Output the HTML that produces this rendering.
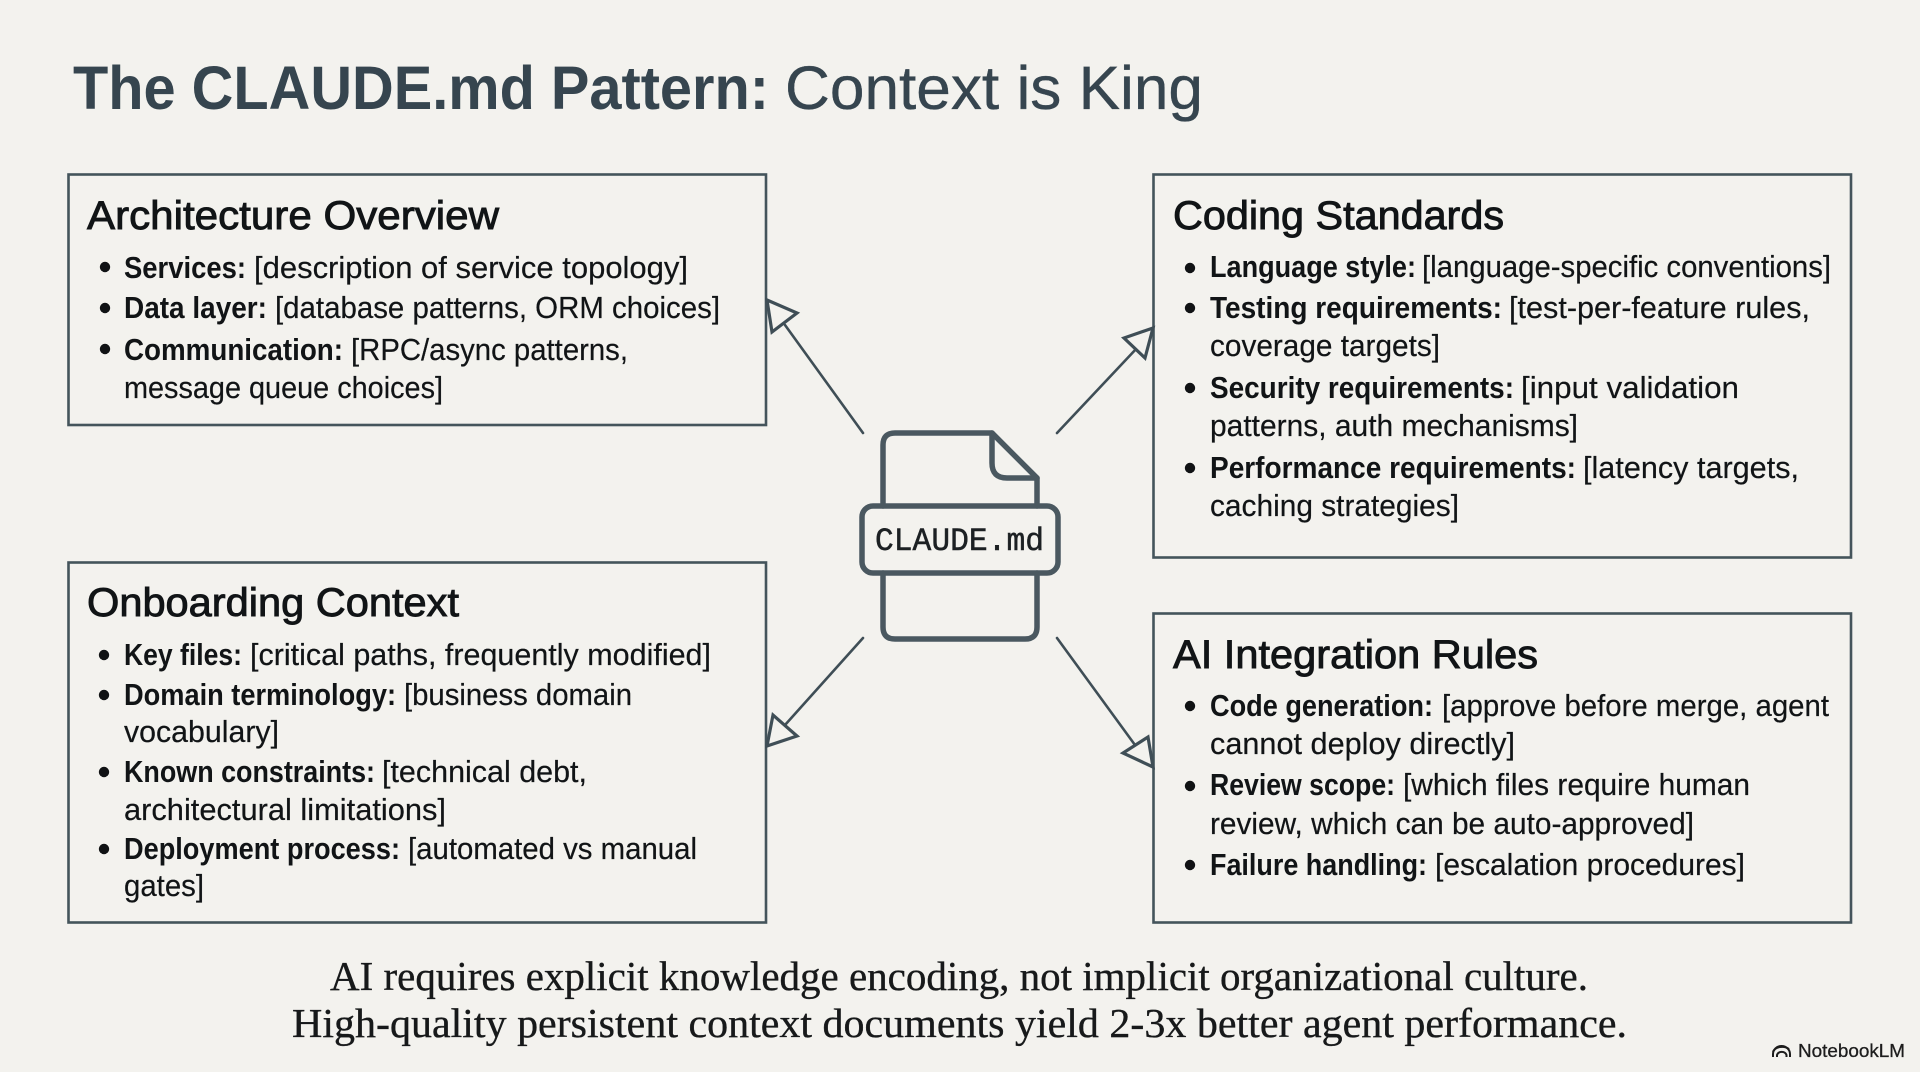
<!DOCTYPE html>
<html lang="en">
<head>
<meta charset="utf-8">
<title>The CLAUDE.md Pattern: Context is King</title>
<style>
html,body{margin:0;padding:0;width:1920px;height:1072px;overflow:hidden;background:#f3f2ee}
svg{display:block}
text{font-family:"Liberation Sans",sans-serif;fill:#111416;white-space:pre}
.t{font-size:61px;fill:#36454f}
.tr{stroke:#36454f;stroke-width:.35px}
.h{font-size:40px;stroke:#111416;stroke-width:.9px}
.b{font-size:31px;font-weight:bold}
.r{font-size:31px;stroke:#111416;stroke-width:.2px}
.s{font-family:"Liberation Serif",serif;font-size:41px;fill:#17191a;stroke:#17191a;stroke-width:.35px}
.m{font-family:"Liberation Mono",monospace;font-size:32px;fill:#1c2023;stroke:#1c2023;stroke-width:.5px}
.box{fill:none;stroke:#44545b;stroke-width:2.6}
.ln{fill:none;stroke:#3f4e56;stroke-width:2.6;stroke-linecap:round}
.ar{fill:#f3f2ee;stroke:#3f4e56;stroke-width:3.2;stroke-linejoin:miter}
.ic{fill:none;stroke:#4a5860;stroke-width:5.5;stroke-linejoin:round;stroke-linecap:round}
.dot{fill:#101214}
</style>
</head>
<body>
<svg width="1920" height="1072" viewBox="0 0 1920 1072" xmlns="http://www.w3.org/2000/svg">
<rect width="1920" height="1072" fill="#f3f2ee"/>

<text class="t" x="73" y="109" font-weight="bold" textLength="696" lengthAdjust="spacingAndGlyphs">The CLAUDE.md Pattern:</text>
<text class="t tr" x="785" y="109" textLength="418" lengthAdjust="spacingAndGlyphs">Context is King</text>

<rect class="box" x="68.500" y="174.500" width="697.500" height="250.500"/>
<rect class="box" x="1153.500" y="174.500" width="697.500" height="383"/>
<rect class="box" x="68.500" y="562.500" width="697.500" height="360"/>
<rect class="box" x="1153.500" y="613.500" width="697.500" height="309"/>

<!-- Architecture Overview -->
<text class="h" x="87" y="229" textLength="412" lengthAdjust="spacingAndGlyphs">Architecture Overview</text>
<circle class="dot" cx="105" cy="267" r="5.200"/>
<text class="b" x="124" y="278" textLength="122" lengthAdjust="spacingAndGlyphs">Services:</text>
<text class="r" x="254" y="278" textLength="434" lengthAdjust="spacingAndGlyphs">[description of service topology]</text>
<circle class="dot" cx="105" cy="308" r="5.200"/>
<text class="b" x="124" y="318" textLength="143" lengthAdjust="spacingAndGlyphs">Data layer:</text>
<text class="r" x="275" y="318" textLength="445" lengthAdjust="spacingAndGlyphs">[database patterns, ORM choices]</text>
<circle class="dot" cx="105" cy="349" r="5.200"/>
<text class="b" x="124" y="360" textLength="219" lengthAdjust="spacingAndGlyphs">Communication:</text>
<text class="r" x="351" y="360" textLength="277" lengthAdjust="spacingAndGlyphs">[RPC/async patterns,</text>
<text class="r" x="124" y="398" textLength="319" lengthAdjust="spacingAndGlyphs">message queue choices]</text>

<!-- Coding Standards -->
<text class="h" x="1173" y="229" textLength="331" lengthAdjust="spacingAndGlyphs">Coding Standards</text>
<circle class="dot" cx="1190" cy="268" r="5.200"/>
<text class="b" x="1210" y="277" textLength="206" lengthAdjust="spacingAndGlyphs">Language style:</text>
<text class="r" x="1422" y="277" textLength="409" lengthAdjust="spacingAndGlyphs">[language-specific conventions]</text>
<circle class="dot" cx="1190" cy="308" r="5.200"/>
<text class="b" x="1210" y="318" textLength="292" lengthAdjust="spacingAndGlyphs">Testing requirements:</text>
<text class="r" x="1509" y="318" textLength="301" lengthAdjust="spacingAndGlyphs">[test-per-feature rules,</text>
<text class="r" x="1210" y="356" textLength="230" lengthAdjust="spacingAndGlyphs">coverage targets]</text>
<circle class="dot" cx="1190" cy="388" r="5.200"/>
<text class="b" x="1210" y="398" textLength="304" lengthAdjust="spacingAndGlyphs">Security requirements:</text>
<text class="r" x="1521" y="398" textLength="218" lengthAdjust="spacingAndGlyphs">[input validation</text>
<text class="r" x="1210" y="436" textLength="368" lengthAdjust="spacingAndGlyphs">patterns, auth mechanisms]</text>
<circle class="dot" cx="1190" cy="468" r="5.200"/>
<text class="b" x="1210" y="478" textLength="366" lengthAdjust="spacingAndGlyphs">Performance requirements:</text>
<text class="r" x="1583" y="478" textLength="216" lengthAdjust="spacingAndGlyphs">[latency targets,</text>
<text class="r" x="1210" y="516" textLength="249" lengthAdjust="spacingAndGlyphs">caching strategies]</text>

<!-- Onboarding Context -->
<text class="h" x="87" y="616" textLength="372" lengthAdjust="spacingAndGlyphs">Onboarding Context</text>
<circle class="dot" cx="104" cy="655" r="5.200"/>
<text class="b" x="124" y="665" textLength="118" lengthAdjust="spacingAndGlyphs">Key files:</text>
<text class="r" x="250" y="665" textLength="461" lengthAdjust="spacingAndGlyphs">[critical paths, frequently modified]</text>
<circle class="dot" cx="104" cy="695" r="5.200"/>
<text class="b" x="124" y="705" textLength="272" lengthAdjust="spacingAndGlyphs">Domain terminology:</text>
<text class="r" x="404" y="705" textLength="228" lengthAdjust="spacingAndGlyphs">[business domain</text>
<text class="r" x="124" y="742" textLength="155" lengthAdjust="spacingAndGlyphs">vocabulary]</text>
<circle class="dot" cx="104" cy="772" r="5.200"/>
<text class="b" x="124" y="782" textLength="251" lengthAdjust="spacingAndGlyphs">Known constraints:</text>
<text class="r" x="382" y="782" textLength="205" lengthAdjust="spacingAndGlyphs">[technical debt,</text>
<text class="r" x="124" y="820" textLength="322" lengthAdjust="spacingAndGlyphs">architectural limitations]</text>
<circle class="dot" cx="104" cy="849" r="5.200"/>
<text class="b" x="124" y="859" textLength="276" lengthAdjust="spacingAndGlyphs">Deployment process:</text>
<text class="r" x="408" y="859" textLength="289" lengthAdjust="spacingAndGlyphs">[automated vs manual</text>
<text class="r" x="124" y="896" textLength="80" lengthAdjust="spacingAndGlyphs">gates]</text>

<!-- AI Integration Rules -->
<text class="h" x="1173" y="668" textLength="365" lengthAdjust="spacingAndGlyphs">AI Integration Rules</text>
<circle class="dot" cx="1190" cy="706" r="5.200"/>
<text class="b" x="1210" y="716" textLength="223" lengthAdjust="spacingAndGlyphs">Code generation:</text>
<text class="r" x="1442" y="716" textLength="387" lengthAdjust="spacingAndGlyphs">[approve before merge, agent</text>
<text class="r" x="1210" y="754" textLength="305" lengthAdjust="spacingAndGlyphs">cannot deploy directly]</text>
<circle class="dot" cx="1190" cy="786" r="5.200"/>
<text class="b" x="1210" y="795" textLength="185" lengthAdjust="spacingAndGlyphs">Review scope:</text>
<text class="r" x="1403" y="795" textLength="347" lengthAdjust="spacingAndGlyphs">[which files require human</text>
<text class="r" x="1210" y="834" textLength="484" lengthAdjust="spacingAndGlyphs">review, which can be auto-approved]</text>
<circle class="dot" cx="1190" cy="865" r="5.200"/>
<text class="b" x="1210" y="875" textLength="217" lengthAdjust="spacingAndGlyphs">Failure handling:</text>
<text class="r" x="1435" y="875" textLength="310" lengthAdjust="spacingAndGlyphs">[escalation procedures]</text>

<!-- Arrows -->
<line class="ln" x1="863" y1="433" x2="785" y2="325"/>
<polygon class="ar" points="767,300 797,313 772,332"/>
<line class="ln" x1="863" y1="638" x2="785" y2="725"/>
<polygon class="ar" points="767,746 773,715 797,736"/>
<line class="ln" x1="1057" y1="433" x2="1137" y2="348"/>
<polygon class="ar" points="1153,328 1124,338 1145,358"/>
<line class="ln" x1="1057" y1="638" x2="1135" y2="745"/>
<polygon class="ar" points="1153,767 1123,753 1148,737"/>

<!-- Document icon -->
<path class="ic" d="M883 506V445Q883 433 895 433H992L1037 478V506"/>
<path class="ic" d="M992 433V463Q992 478 1007 478H1037"/>
<path class="ic" d="M883 573V627Q883 639 895 639H1025Q1037 639 1037 627V573"/>
<rect class="ic" x="862" y="506" width="196" height="67" rx="11"/>
<text class="m" x="875" y="550" textLength="169" lengthAdjust="spacingAndGlyphs">CLAUDE.md</text>

<!-- Takeaway -->
<text class="s" x="330" y="990" textLength="1258" lengthAdjust="spacingAndGlyphs">AI requires explicit knowledge encoding, not implicit organizational culture.</text>
<text class="s" x="292" y="1037" textLength="1335" lengthAdjust="spacingAndGlyphs">High-quality persistent context documents yield 2-3x better agent performance.</text>

<!-- NotebookLM mark -->
<g fill="none" stroke="#1d1d1d" stroke-width="2">
<path d="M1773 1057v-3a8.500 8 0 0 1 17 0v3"/>
<path d="M1777 1057v-2a5 4.500 0 0 1 9.500 0v2"/>
<path d="M1773 1052a9.500 7 0 0 1 16-3"/>
</g>
<text x="1798" y="1057" font-size="18.500" textLength="107" lengthAdjust="spacingAndGlyphs" style="fill:#1d1d1d;stroke:#1d1d1d;stroke-width:.3px">NotebookLM</text>
</svg>
</body>
</html>
